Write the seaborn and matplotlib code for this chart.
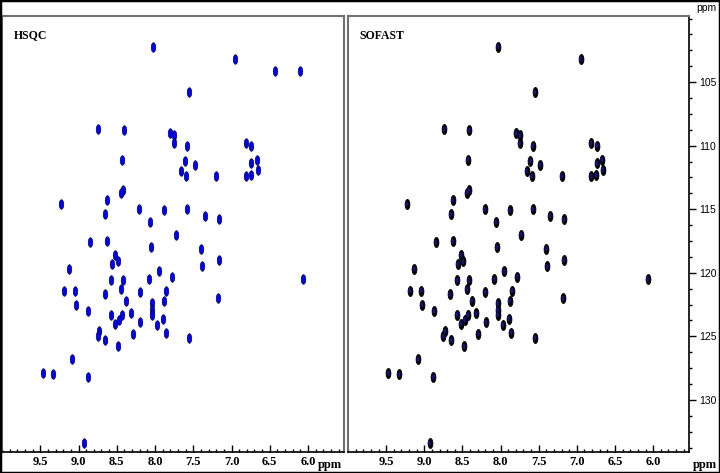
import numpy as np
import pandas as pd
import seaborn as sns
from matplotlib import pyplot as plt
from matplotlib.path import Path
from matplotlib.ticker import MultipleLocator

# 1H / 15N peak positions (ppm)
peak_h = [8.03, 6.95, 6.43, 6.11, 7.55, 8.74, 8.41, 7.80, 7.75, 7.75, 7.58, 6.81, 6.74,
          8.43, 7.61, 7.48, 7.66, 7.59, 7.20, 6.81, 6.75, 6.74, 6.67, 6.66, 8.42, 8.44,
          9.23, 8.63, 8.65, 8.21, 7.88, 7.58, 7.35, 7.17, 8.06, 7.73,
          8.85, 8.63, 8.05, 7.40, 8.52, 8.49, 8.56, 9.13, 7.39, 7.17, 7.95, 7.78,
          8.08, 8.57, 8.42, 8.44, 6.07, 9.19, 9.04, 8.66, 8.20, 7.85, 7.88, 8.38,
          8.04, 8.04, 7.18, 9.03, 8.87, 8.57, 8.04, 8.32, 8.43, 8.47, 8.52, 7.89,
          8.19, 7.97, 7.86, 8.73, 8.75, 8.65, 8.29, 7.55, 8.48, 9.08, 9.47, 9.33,
          8.88, 8.93]
peak_n = [102.2, 103.2, 104.1, 104.1, 105.8, 108.7, 108.8, 109.0, 109.2, 109.8, 110.0, 109.8, 110.0,
          111.1, 111.2, 111.5, 112.0, 112.4, 112.4, 112.4, 112.3, 111.4, 111.1, 111.9, 113.5, 113.7,
          114.6, 114.3, 115.4, 115.0, 115.1, 115.0, 115.5, 115.8, 116.0, 117.0,
          117.6, 117.5, 118.0, 118.1, 118.6, 119.1, 119.3, 119.7, 119.5, 119.0, 119.9, 120.3,
          120.5, 120.6, 120.6, 121.3, 120.5, 121.4, 121.4, 121.7, 121.5, 121.4, 122.2, 122.2,
          122.4, 122.9, 122.0, 122.5, 123.0, 123.3, 123.3, 123.2, 123.3, 123.7, 124.0, 123.6,
          123.9, 124.1, 124.7, 124.6, 125.0, 125.3, 124.8, 125.1, 125.8, 126.8, 127.9, 128.0,
          128.2, 133.4]
# peaks not seen in the SOFAST spectrum
sofast_missing_h = [6.43, 6.11]

panels = ["HSQC", "SOFAST"]
x_ticks = [9.5, 9.0, 8.5, 8.0, 7.5, 7.0, 6.5, 6.0]
y_ticks = [105, 110, 115, 120, 125, 130]

df = pd.DataFrame({"H": peak_h, "N": peak_n})
df_sofast = df[~df["H"].isin(sofast_missing_h)]

# vertical ellipse marker, peaks are broader in 15N
t = np.linspace(0, 2 * np.pi, 40)
ellipse = Path(np.column_stack([0.48 * np.cos(t), np.sin(t)]), closed=True)

fig = plt.figure(figsize=(7.2, 4.73), dpi=100)
ax1 = fig.add_axes([2 / 720, 1 - 452 / 473, 342 / 720, 436 / 473])
ax2 = fig.add_axes([348 / 720, 1 - 452 / 473, 341 / 720, 436 / 473])

sns.scatterplot(data=df, x="H", y="N", marker=ellipse, s=48, color="#0000ff",
                edgecolor="black", linewidth=0.4, ax=ax1)
sns.scatterplot(data=df_sofast, x="H", y="N", marker=ellipse, s=52, color="black",
                edgecolor="black", linewidth=0.6, ax=ax2)
sns.scatterplot(data=df_sofast, x="H", y="N", marker=ellipse, s=16, color="#141480",
                edgecolor="none", ax=ax2)

serif_bold = dict(family="Liberation Serif", weight="bold", size=9)
for ax, name in zip([ax1, ax2], panels):
    ax.set_xlim(10.0, 5.53)
    ax.set_ylim(134.1, 99.8)
    ax.set_xlabel("")
    ax.set_ylabel("")
    for side in ["top", "left", "right"]:
        ax.spines[side].set_color("#707070")
        ax.spines[side].set_linewidth(1.5)
    ax.spines["bottom"].set_color("black")
    ax.spines["bottom"].set_linewidth(1.2)
    ax.set_xticks(x_ticks)
    ax.set_xticklabels([f"{v:.1f}" for v in x_ticks], fontdict=serif_bold)
    ax.xaxis.set_minor_locator(MultipleLocator(0.1))
    ax.tick_params(axis="x", which="major", direction="in", length=5, width=1, pad=3)
    ax.tick_params(axis="x", which="minor", direction="in", length=2.5, width=1)
    ax.text(0.035, 0.955, name, transform=ax.transAxes, ha="left", va="center",
            family="Liberation Serif", weight="bold", size=8.5)

ax1.set_yticks([])
ax1.spines["right"].set_color("#707070")

ax2.yaxis.tick_right()
ax2.spines["right"].set_color("black")
ax2.spines["right"].set_linewidth(1.2)
ax2.set_yticks(y_ticks)
ax2.set_yticklabels([str(v) for v in y_ticks], family="Liberation Sans", size=7.5)
ax2.yaxis.set_minor_locator(MultipleLocator(1.25))
ax2.tick_params(axis="y", which="major", direction="out", length=5, width=1, pad=2)
ax2.tick_params(axis="y", which="minor", direction="out", length=2.5, width=1)

fig.text(330 / 720, 1 - 465 / 473, "ppm", ha="center", va="center", **serif_bold)
fig.text(705 / 720, 1 - 465 / 473, "ppm", ha="center", va="center", **serif_bold)
fig.text(706 / 720, 1 - 8 / 473, "ppm", ha="center", va="center",
         family="Liberation Sans", size=7.5)

fig.add_artist(plt.Rectangle((0, 0), 1, 1, transform=fig.transFigure, fill=False,
                             edgecolor="black", linewidth=2.5))

fig.savefig("out.png", dpi=100)
